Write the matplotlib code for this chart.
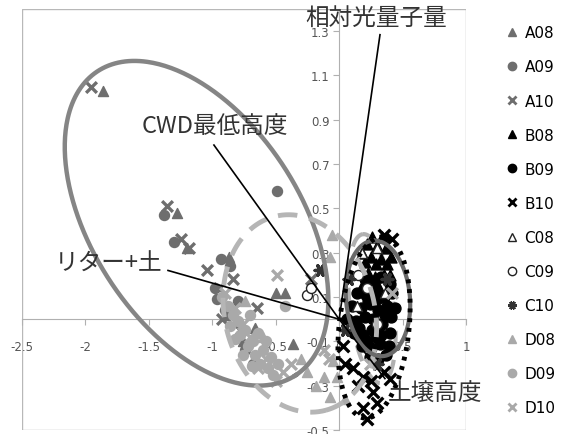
import numpy as np
import matplotlib
matplotlib.use("Agg")
import matplotlib.pyplot as plt
from matplotlib.patches import Rectangle
from matplotlib.lines import Line2D

plt.rcParams['font.family'] = ['Noto Sans CJK JP', 'DejaVu Sans']

# --- scores per plot/year ---
a08_x = [-1.86, -1.28, -1.20, -0.87, -0.50, -0.43, -0.36, -0.76, -0.90, -0.66]
a08_y = [1.03, 0.48, 0.32, 0.28, 0.12, 0.12, -0.11, -0.10, 0.02, -0.04]
a09_x = [-1.38, -0.49, -0.93, -0.86, -0.96, -0.90, -0.80, -0.74, -0.68, -1.30, -0.98]
a09_y = [0.47, 0.58, 0.27, 0.24, 0.09, 0.04, 0.08, -0.14, -0.20, 0.35, 0.14]
a10_x = [-1.96, -1.36, -1.25, -1.18, -1.04, -0.84, -0.65, -0.22, -0.95, -0.92, -0.78]
a10_y = [1.05, 0.51, 0.36, 0.32, 0.22, 0.18, 0.05, 0.18, 0.14, 0.00, -0.05]

b08_x = [0.18, 0.22, 0.26, 0.30, 0.34, 0.37, 0.20, 0.25, 0.29, 0.33, 0.38, 0.41,
         0.23, 0.28, 0.35, 0.40, 0.31, 0.19]
b08_y = [0.30, 0.34, 0.37, 0.33, 0.37, 0.32, 0.26, 0.28, 0.25, 0.27, 0.25, 0.28,
         0.21, 0.19, 0.20, 0.20, 0.15, 0.16]
b09_x = [0.20, 0.26, 0.33, 0.40,
         0.14, 0.21, 0.28, 0.35, 0.42,
         0.10, 0.17, 0.24, 0.31, 0.38, 0.44,
         0.06, 0.13, 0.20, 0.27, 0.34, 0.41,
         0.12, 0.19, 0.26, 0.33, 0.40,
         0.18, 0.25, 0.32, 0.39,
         0.24, 0.31, 0.37,
         0.23, 0.30, 0.36, 0.16, 0.29, 0.22]
b09_y = [0.18, 0.17, 0.19, 0.16,
         0.12, 0.11, 0.13, 0.10, 0.12,
         0.06, 0.05, 0.07, 0.04, 0.06, 0.05,
         0.00, -0.01, 0.01, 0.00, -0.02, 0.01,
         -0.06, -0.07, -0.05, -0.07, -0.06,
         -0.12, -0.13, -0.11, -0.12,
         -0.17, -0.18, -0.16,
         0.08, 0.09, 0.02, -0.04, -0.08, -0.10]
b10_x = [0.11, 0.19, 0.35, 0.27, 0.19, 0.03, 0.40, 0.35, 0.42, 0.05, 0.15, 0.25, 0.30, 0.22]
b10_y = [-0.22, -0.26, -0.24, -0.33, -0.40, -0.12, -0.27, 0.38, 0.36, -0.20, -0.30, -0.28, -0.38, -0.45]

c08_x = [0.30, 0.18, 0.14, 0.36]
c08_y = [0.32, 0.30, 0.06, 0.12]
c09_x = [-0.25, 0.22, 0.30, 0.15, -0.22]
c09_y = [0.11, 0.14, -0.02, 0.20, 0.14]
c10_x = [-0.15, 0.08, 0.05, 0.30, 0.38]
c10_y = [0.22, 0.18, -0.05, -0.20, 0.18]

d08_x = [-0.06, -0.07, -0.05, -0.02, -0.07, -0.25, -0.18, -0.12, -0.30, -0.60, -0.74, 0.05]
d08_y = [0.38, 0.28, -0.19, -0.26, -0.35, -0.24, -0.30, -0.26, -0.18, -0.08, 0.08, -0.36]
d09_x = [-0.92, -0.88, -0.84, -0.86, -0.80, -0.78, -0.74, -0.72, -0.68, -0.66, -0.62, -0.60,
         -0.56, -0.52, -0.48, -0.43, -0.70, -0.76, -0.64, -0.58, -0.82, -0.69, -0.54]
d09_y = [0.10, 0.06, 0.02, -0.03, -0.01, -0.07, -0.05, -0.12, -0.10, -0.16, -0.20, -0.14,
         -0.22, -0.25, -0.20, 0.06, 0.02, -0.16, -0.06, -0.10, -0.09, -0.21, -0.17]
d10_x = [-0.49, -0.90, -0.82, -0.76, -0.70, -0.64, -0.58, -0.50, -0.44, -0.38, -0.12, -0.08, 0.24, 0.42]
d10_y = [0.20, 0.12, 0.05, -0.02, -0.08, -0.22, -0.18, -0.28, -0.24, -0.20, -0.14, -0.18, -0.20, 0.12]

# environmental vectors
vec_names = ['相対光量子量', 'CWD最低高度', 'リター+土', '土壌高度']
vec_x = [0.322, -0.987, -1.349, 0.361]
vec_y = [1.284, 0.786, 0.220, -0.268]

# group ellipses: centre x, centre y, semi-axes (x units), angle (deg on screen)
ell_cx = [-1.124, -0.31, 0.306, 0.259, 0.275]
ell_cy = [0.433, 0.026, 0.094, 0.048, -0.038]
ell_a = [1.43, 0.79, 0.457, 0.591, 0.717]
ell_b = [0.82, 0.59, 0.252, 0.173, 0.276]
ell_ang = [-57, -75, 95, 97, 84]

fig = plt.figure(figsize=(5.64, 4.35), dpi=100)
ax = fig.add_axes([22 / 564, 4 / 435, 444 / 564, 421 / 435])
ax.set_xlim(-2.5, 1.0)
ax.set_ylim(-0.5, 1.4)

dark = '#6e6e6e'
light = '#a9a9a9'
series = [
    ('A08', a08_x, a08_y, '^', dark, dark),
    ('A09', a09_x, a09_y, 'o', dark, dark),
    ('A10', a10_x, a10_y, 'x', dark, dark),
    ('B08', b08_x, b08_y, '^', 'black', 'black'),
    ('B09', b09_x, b09_y, 'o', 'black', 'black'),
    ('B10', b10_x, b10_y, 'x', 'black', 'black'),
    ('C08', c08_x, c08_y, '^', 'white', '#222222'),
    ('C09', c09_x, c09_y, 'o', 'white', '#222222'),
    ('C10', c10_x, c10_y, (6, 2, 30), '#333333', '#333333'),
    ('D08', d08_x, d08_y, '^', light, light),
    ('D09', d09_x, d09_y, 'o', light, light),
    ('D10', d10_x, d10_y, 'x', light, light),
]

handles = []
for name, xs, ys, mk, fc, ec in series:
    crossy = mk == 'x' or isinstance(mk, tuple)
    size = 62 if name.startswith('B') else 52
    if crossy:
        ax.scatter(xs, ys, marker=mk, s=size + 8, color=fc, linewidths=2.4, zorder=3)
    else:
        ax.scatter(xs, ys, marker=mk, s=size, facecolor=fc, edgecolor=ec, linewidths=1.0, zorder=3)
    h = Line2D([], [], linestyle='none', marker=mk, markersize=6,
               markerfacecolor=fc, markeredgecolor=ec,
               markeredgewidth=2.0 if crossy else 1.0)
    handles.append(h)

# screen aspect ratio so ellipses can be given in x units
bbox = ax.get_window_extent()
r = (bbox.height / 1.9) / (bbox.width / 3.5)

t = np.linspace(0, 2 * np.pi, 400)
styles = [
    dict(color='#858585', lw=3.2, ls='-', zorder=4),
    dict(color='#b5b5b5', lw=3.5, ls=(0, (4, 2.5)), zorder=4),
    dict(color='#6a6a6a', lw=3.0, ls='-', zorder=4),
    dict(color='#b0b0b0', lw=3.0, ls=(0, (4, 3)), zorder=2.5),  # mostly hidden under B points
    dict(color='black', lw=3.5, ls=(0, (0.8, 1.2)), zorder=4),
]
for cx, cy, a, b, ang, st in zip(ell_cx, ell_cy, ell_a, ell_b, ell_ang, styles):
    ca, sa = np.cos(np.radians(ang)), np.sin(np.radians(ang))
    ex = a * np.cos(t) * ca - b * np.sin(t) * sa
    ey = a * np.cos(t) * sa + b * np.sin(t) * ca
    ax.plot(cx + ex, cy + ey / r, **st)

# vectors and their labels
for vx, vy in zip(vec_x, vec_y):
    ax.plot([0, vx], [0, vy], color='black', lw=1.2, zorder=5)
ax.text(0.29, 1.36, vec_names[0], fontsize=17, color='#333333', ha='center', va='center', zorder=6)
ax.text(-0.98, 0.876, vec_names[1], fontsize=17, color='#333333', ha='center', va='center', zorder=6)
ax.text(-1.82, 0.252, vec_names[2], fontsize=17, color='#333333', ha='center', va='center', zorder=6)
ax.text(0.385, -0.336, vec_names[3], fontsize=17, color='#333333', ha='left', va='center',
        zorder=6, clip_on=False)

# axes through the origin + outer frame
for side in ['top', 'right']:
    ax.spines[side].set_visible(False)
ax.spines['left'].set_position(('data', 0))
ax.spines['bottom'].set_position(('data', 0))
ax.spines['left'].set_color('#b0b0b0')
ax.spines['bottom'].set_color('#b0b0b0')
ax.add_patch(Rectangle((0, 0), 1, 1, transform=ax.transAxes, fill=False,
                       edgecolor='#b8b8b8', lw=1.0, zorder=0))
xt = np.arange(-2.5, 1.01, 0.5)
yt = np.round(np.arange(-0.5, 1.31, 0.2), 1)
ax.set_xticks(xt)
ax.set_yticks(yt)
ax.set_xticklabels([f'{v:g}' for v in xt])
ax.set_yticklabels([f'{v:g}' for v in yt])
ax.tick_params(axis='both', labelsize=8.5, labelcolor='#555555', color='#b0b0b0', length=4)
ax.tick_params(axis='x', pad=11)
ax.tick_params(axis='y', pad=3)
for lab in ax.get_xticklabels() + ax.get_yticklabels():
    lab.set_family('DejaVu Sans')

fig.legend(handles, [s[0] for s in series], loc='upper left', bbox_to_anchor=(0.884, 0.9535),
           frameon=False, labelspacing=1.25, handletextpad=0.3,
           handlelength=1.0, borderaxespad=0, prop={'family': 'DejaVu Sans', 'size': 11})

fig.savefig('out.png', dpi=100)
